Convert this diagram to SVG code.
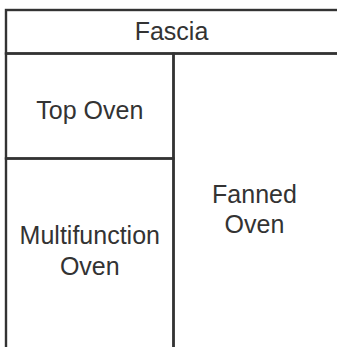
<svg xmlns="http://www.w3.org/2000/svg" width="337" height="347" viewBox="0 0 337 347">
<style>
.box{fill:none;stroke:#333;stroke-width:2.4}
.lbl{font-family:"Liberation Sans",Arial,sans-serif;font-size:25px;fill:#333;text-anchor:middle}
</style>
<rect width="337" height="347" fill="#fff"/>
<g id="fascia">
<rect class="box" x="6" y="10" width="345" height="43.5"/>
<text class="lbl" x="171.5" y="40">Fascia</text>
</g>
<g id="top-oven">
<rect class="box" x="6" y="53.5" width="167.5" height="105"/>
<text class="lbl" x="89.8" y="119.3">Top Oven</text>
</g>
<g id="multifunction-oven">
<rect class="box" x="6" y="158.5" width="167.5" height="200"/>
<text class="lbl" x="89.8" y="244">Multifunction</text>
<text class="lbl" x="89.8" y="275">Oven</text>
</g>
<g id="fanned-oven">
<rect class="box" x="173.5" y="53.5" width="180" height="305"/>
<text class="lbl" x="254.5" y="203.3">Fanned</text>
<text class="lbl" x="254.5" y="233.3">Oven</text>
</g>
<g id="connectors"/>
</svg>
